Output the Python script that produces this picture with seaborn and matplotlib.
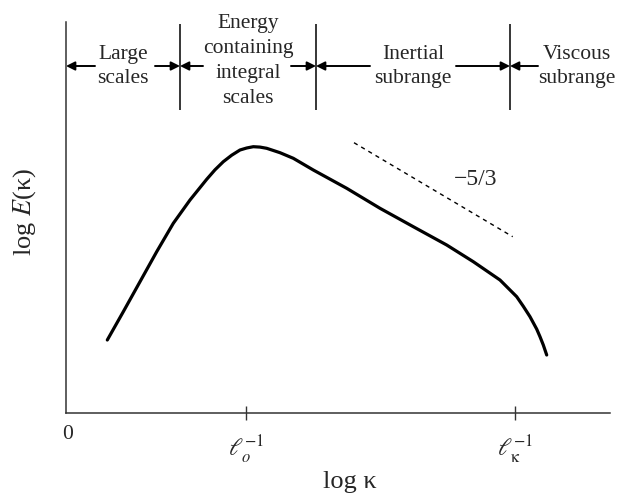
import numpy as np
import pandas as pd
import matplotlib
matplotlib.use("Agg")
import matplotlib.pyplot as plt
import seaborn as sns

# ---- data (log kappa, log E), arbitrary decades ----
log_k = [0.413, 0.573, 0.740, 0.907, 1.073, 1.240, 1.407, 1.490, 1.573, 1.657,
         1.740, 1.807, 1.873, 1.940, 2.007, 2.140, 2.273, 2.473, 2.807,
         3.140, 3.473, 3.807, 4.073, 4.340, 4.507, 4.573, 4.640, 4.707, 4.740,
         4.773, 4.807]
log_E = [0.730, 1.013, 1.313, 1.613, 1.897, 2.130, 2.337, 2.432, 2.513, 2.578,
         2.630, 2.650, 2.663, 2.659, 2.647, 2.603, 2.547, 2.430, 2.247,
         2.047, 1.863, 1.680, 1.513, 1.330, 1.163, 1.067, 0.963, 0.839, 0.763,
         0.680, 0.580]

slope_x = [2.88, 4.467]
slope_y = [2.703, 1.763]
slope_label = "\u22125/3"

tick_pos = [1.80, 4.49]
tick_labels = ["$\\ell_o^{-1}$", "$\\ell_{\\mathrm{κ}}^{-1}$"]

region_bounds = [1.14, 2.50, 4.44]
region_names = ["Large\nscales", "Energy\ncontaining\nintegral\nscales",
                "Inertial\nsubrange", "Viscous\nsubrange"]
region_centers = [0.57, 1.82, 3.47, 5.11]
# arrows: (tail x, head x)
arrows = [(0.29, 0.0), (0.89, 1.14), (1.37, 1.14), (2.25, 2.50),
          (3.04, 2.50), (3.90, 4.44), (4.72, 4.44)]

sns.set_theme(style="white")
plt.rcParams["font.family"] = ["Liberation Serif", "DejaVu Serif"]
plt.rcParams["mathtext.fontset"] = "stix"

fig = plt.figure(figsize=(6.19, 4.94), dpi=100)
ax = fig.add_axes([66 / 619, 81 / 494, 544 / 619, 391 / 494])

df = pd.DataFrame({"k": log_k, "E": log_E})
sns.lineplot(data=df, x="k", y="E", ax=ax, color="black", lw=2.3)
sd = pd.DataFrame({"k": slope_x, "E": slope_y})
sns.lineplot(data=sd, x="k", y="E", ax=ax, color="black", lw=1.0,
             linestyle=(0, (3, 3)))

ax.text(4.10, 2.34, slope_label, ha="center", va="center", fontsize=17)

ax.set_xlim(0, 5.44)
ax.set_ylim(0, 3.91)
sns.despine(ax=ax)
for s in ["left", "bottom"]:
    ax.spines[s].set_color("#333333")
    ax.spines[s].set_linewidth(1.1)

ax.set_yticks([])
ax.set_xticks(tick_pos)
ax.set_xticklabels(tick_labels, fontsize=17)
ax.tick_params(axis="x", which="major", direction="inout", length=9.5,
               width=1.0, color="#333333", pad=10.5, bottom=True)
ax.set_xticks([0.02], minor=True)
ax.set_xticklabels(["0"], minor=True, fontsize=15.5)
ax.tick_params(axis="x", which="minor", length=0, pad=8.6)

ax.set_xlabel("log \u03ba", fontsize=19)
ax.xaxis.set_label_coords(0.522, -0.148)
ax.set_ylabel("log $E$(\u03ba)", fontsize=19)
ax.yaxis.label.set_va("center")
ax.yaxis.set_label_coords(-41 / 544, 0.515)

# region header
ax.vlines(region_bounds, 3.03, 3.89, color="black", lw=1.1, clip_on=False)
for (t, h) in arrows:
    ax.annotate("", xy=(h, 3.47), xytext=(t, 3.47),
                arrowprops=dict(arrowstyle="-|>", color="black", lw=1.4,
                                mutation_scale=13, shrinkA=0, shrinkB=0),
                annotation_clip=False)
for name, cx in zip(region_names, region_centers):
    cy = 3.52 if name.count("\n") == 3 else 3.465
    ax.text(cx, cy, name, ha="center", va="center", fontsize=15.5,
            linespacing=1.42, clip_on=False)

fig.savefig("out.png", dpi=100)
